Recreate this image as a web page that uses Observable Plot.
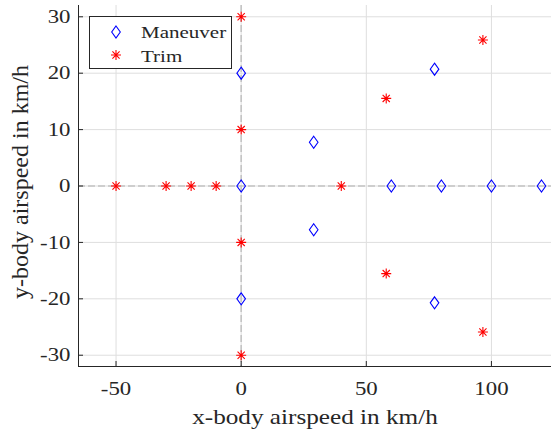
<!DOCTYPE html>
<html><head><meta charset="utf-8">
<script src="https://cdn.jsdelivr.net/npm/d3@7"></script>
<script src="https://cdn.jsdelivr.net/npm/@observablehq/plot@0.6"></script>
<style>
body{margin:0;background:#fff;}
#wrap{position:relative;width:551px;height:434px;overflow:hidden;}
#legend{position:absolute;left:89px;top:16px;}
</style></head><body><div id="wrap"></div>
<script>
// Data
const maneuverX = [0, 0, 0, 28.98, 28.98, 77.27, 77.27, 60, 80, 100, 120];
const maneuverY = [20, 0, -20, 7.76, -7.76, 20.71, -20.71, 0, 0, 0, 0];
const trimX = [0, 0, 0, 0, -50, -30, -20, -10, 40, 57.96, 57.96, 96.59, 96.59];
const trimY = [30, 10, -10, -30, 0, 0, 0, 0, 0, 15.53, -15.53, 25.88, -25.88];
const xTicks = [-50, 0, 50, 100];
const yTicks = [-30, -20, -10, 0, 10, 20, 30];
const seriesNames = ["Maneuver", "Trim"];
const xLabel = "x-body airspeed in km/h";
const yLabel = "y-body airspeed in km/h";
const xDomain = [-65, 124];
const yDomain = [-32, 32];

const maneuver = maneuverX.map((x, i) => ({x, y: maneuverY[i]}));
const trim = trimX.map((x, i) => ({x, y: trimY[i]}));

const diamond = {draw(ctx) { ctx.moveTo(0, -6); ctx.lineTo(4.3, 0); ctx.lineTo(0, 6); ctx.lineTo(-4.3, 0); ctx.closePath(); }};
const asterisk = {draw(ctx) {
  const r = 5, d = 3.6;
  ctx.moveTo(-r, 0); ctx.lineTo(r, 0);
  ctx.moveTo(0, -r); ctx.lineTo(0, r);
  ctx.moveTo(-d, -d); ctx.lineTo(d, d);
  ctx.moveTo(-d, d); ctx.lineTo(d, -d);
}};

const W = 551, H = 434, ML = 78, MR = 0, MT = 5, MB = 68;
const IW = W - ML - MR, IH = H - MT - MB;
const axisColor = "#262626";
const font = '"Liberation Serif", "Times New Roman", serif';

const plot = Plot.plot({
  width: W, height: H,
  marginLeft: ML, marginRight: MR, marginTop: MT, marginBottom: MB,
  x: {domain: xDomain},
  y: {domain: yDomain},
  style: {fontFamily: font, background: "#fff", overflow: "visible"},
  marks: [
    Plot.gridX(xTicks, {stroke: "#dedede", strokeOpacity: 1}),
    Plot.gridY(yTicks, {stroke: "#dedede", strokeOpacity: 1}),
    Plot.ruleX([0], {stroke: "#c4c4c4", strokeWidth: 1.6, strokeDasharray: "7,3"}),
    Plot.ruleY([0], {stroke: "#c4c4c4", strokeWidth: 1.6, strokeDasharray: "7,3"}),
    Plot.dot(maneuver, {x: "x", y: "y", symbol: diamond, stroke: "#0000ff", fill: "none", strokeWidth: 1.1}),
    Plot.dot(trim, {x: "x", y: "y", symbol: asterisk, stroke: "#ff0000", fill: "none", strokeWidth: 1.1}),
    Plot.tickX(xTicks, {x: d => d, insetTop: IH - 5, stroke: axisColor}),
    Plot.tickY(yTicks, {y: d => d, insetRight: IW - 5, stroke: axisColor}),
    Plot.axisX(xTicks, {tickSize: 0, tickPadding: 15, fontSize: 19, fill: axisColor, label: null, tickFormat: d => String(d)}),
    Plot.axisY(yTicks, {tickSize: 0, tickPadding: 8, fontSize: 19, fill: axisColor, label: null, tickFormat: d => String(d)}),
    Plot.ruleX([xDomain[0]], {stroke: axisColor}),
    Plot.ruleY([yDomain[0]], {stroke: axisColor}),
    Plot.text([xLabel], {frameAnchor: "bottom", textAnchor: "middle", lineAnchor: "middle", dy: 51, fontSize: 21, fill: axisColor}),
    Plot.text([yLabel], {frameAnchor: "left", textAnchor: "middle", lineAnchor: "middle", dx: -58, dy: -4, rotate: -90, fontSize: 24, fill: axisColor})
  ]
});

const wrap = document.getElementById("wrap");
wrap.appendChild(plot);

// Legend
const ns = "http://www.w3.org/2000/svg";
const lg = document.createElementNS(ns, "svg");
lg.setAttribute("id", "legend");
lg.setAttribute("width", 144); lg.setAttribute("height", 54);
lg.innerHTML = `
<rect x="0.5" y="0.5" width="142" height="52" fill="#fff" stroke="${axisColor}" stroke-width="1"/>
<path d="M27,10 L31.3,16 L27,22 L22.7,16 Z" fill="none" stroke="#0000ff" stroke-width="1.1"/>
<path d="M22,39 L32,39 M27,34 L27,44 M23.4,35.4 L30.6,42.6 M23.4,42.6 L30.6,35.4" fill="none" stroke="#ff0000" stroke-width="1.1"/>
<text x="52" y="22" font-size="17.5" fill="${axisColor}" font-family='${font}'>${seriesNames[0]}</text>
<text x="52" y="46" font-size="17.5" fill="${axisColor}" font-family='${font}'>${seriesNames[1]}</text>`;
wrap.appendChild(lg);

// horizontal glyph stretch to mimic the reference rendering
const S = 1.2;
function stretchEl(t) {
  const L = t.getComputedTextLength();
  if (L > 0) { t.setAttribute("textLength", L * S); t.setAttribute("lengthAdjust", "spacingAndGlyphs"); }
}
document.querySelectorAll('g[aria-label="x-axis tick label"] text, g[aria-label="y-axis tick label"] text, #legend text').forEach(stretchEl);
plot.querySelectorAll("text").forEach(t => { if (t.textContent === xLabel) stretchEl(t); });
</script>
</body></html>
